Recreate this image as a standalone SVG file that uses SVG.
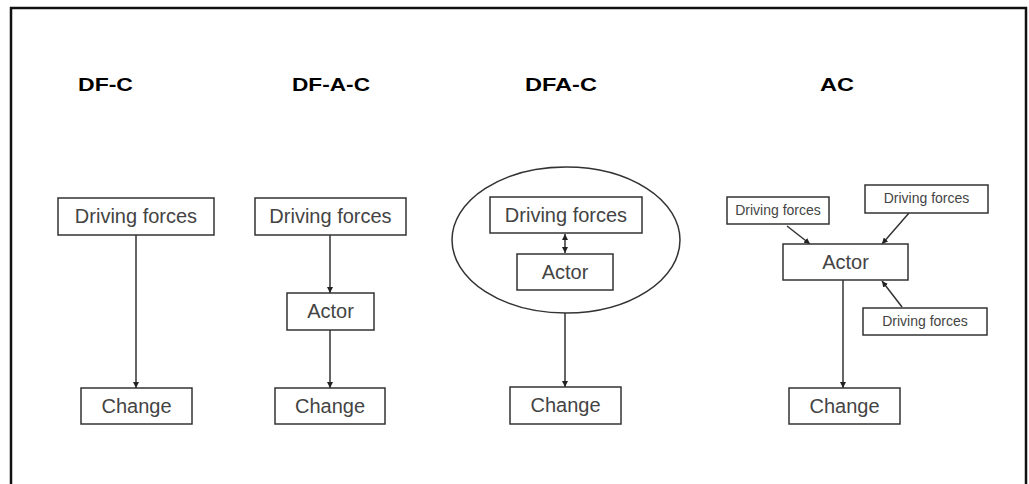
<svg xmlns="http://www.w3.org/2000/svg" width="1029" height="484" viewBox="0 0 1029 484">
<style>
.box{fill:#fff;stroke:#333;stroke-width:1.5}
.grp{fill:none;stroke:#333;stroke-width:1.5}
.lbl{font-family:"Liberation Sans",Arial,sans-serif;fill:#444;text-anchor:middle}
.ttl{font-family:"Liberation Sans",Arial,sans-serif;font-weight:bold;fill:#000;font-size:19px}
.con{fill:none;stroke:#333;stroke-width:1.5}
.frame{fill:none;stroke:#111;stroke-width:2.5}
</style>
<defs>
<marker id="ah" viewBox="0 0 10 10" refX="10" refY="5" markerWidth="6" markerHeight="6" orient="auto-start-reverse" markerUnits="userSpaceOnUse">
<path d="M0,0 L10,5 L0,10 z" fill="#222"/>
</marker>
</defs>
<rect width="1029" height="484" fill="#fff"/>
<path class="frame" d="M11,490 V8 H1026 V490"/>

<g id="titles">
<text class="ttl" x="78" y="91" textLength="55" lengthAdjust="spacingAndGlyphs">DF-C</text>
<text class="ttl" x="292" y="91" textLength="78" lengthAdjust="spacingAndGlyphs">DF-A-C</text>
<text class="ttl" x="525" y="91" textLength="72" lengthAdjust="spacingAndGlyphs">DFA-C</text>
<text class="ttl" x="820" y="91" textLength="34" lengthAdjust="spacingAndGlyphs">AC</text>
</g>

<g id="dfa-c-group">
<ellipse class="grp" cx="566" cy="240" rx="114" ry="73"/>
</g>

<g id="connectors">
<line class="con" x1="136" y1="235" x2="136" y2="388" marker-end="url(#ah)"/>
<line class="con" x1="330" y1="235" x2="330" y2="293" marker-end="url(#ah)"/>
<line class="con" x1="330" y1="330" x2="330" y2="388" marker-end="url(#ah)"/>
<line class="con" x1="565" y1="234" x2="565" y2="253" marker-start="url(#ah)" marker-end="url(#ah)"/>
<line class="con" x1="565" y1="313" x2="565" y2="387" marker-end="url(#ah)"/>
<line class="con" x1="787" y1="226" x2="810" y2="244" marker-end="url(#ah)"/>
<line class="con" x1="909" y1="213" x2="882" y2="244" marker-end="url(#ah)"/>
<line class="con" x1="902" y1="307" x2="882" y2="281" marker-end="url(#ah)"/>
<line class="con" x1="843" y1="280" x2="843" y2="388" marker-end="url(#ah)"/>
</g>

<g id="dfc-driving">
<rect class="box" x="58" y="198" width="156" height="37"/>
<text class="lbl" x="136" y="223" font-size="20">Driving forces</text>
</g>
<g id="dfc-change">
<rect class="box" x="81" y="388" width="111" height="36"/>
<text class="lbl" x="136.5" y="413" font-size="20">Change</text>
</g>

<g id="dfac-driving">
<rect class="box" x="255" y="198" width="151" height="37"/>
<text class="lbl" x="330.5" y="223" font-size="20">Driving forces</text>
</g>
<g id="dfac-actor">
<rect class="box" x="287" y="293" width="87" height="37"/>
<text class="lbl" x="330.5" y="318" font-size="20">Actor</text>
</g>
<g id="dfac-change">
<rect class="box" x="275" y="388" width="110" height="36"/>
<text class="lbl" x="330" y="413" font-size="20">Change</text>
</g>

<g id="dfa-c-driving">
<rect class="box" x="490" y="197" width="152" height="36"/>
<text class="lbl" x="566" y="222" font-size="20">Driving forces</text>
</g>
<g id="dfa-c-actor">
<rect class="box" x="517" y="254" width="96" height="36"/>
<text class="lbl" x="565" y="279" font-size="20">Actor</text>
</g>
<g id="dfa-c-change">
<rect class="box" x="510" y="387" width="111" height="37"/>
<text class="lbl" x="565.5" y="412" font-size="20">Change</text>
</g>

<g id="ac-driving-1">
<rect class="box" x="727" y="197" width="102" height="27"/>
<text class="lbl" x="778" y="215" font-size="14">Driving forces</text>
</g>
<g id="ac-driving-2">
<rect class="box" x="865" y="185" width="123" height="28"/>
<text class="lbl" x="926.5" y="203" font-size="14">Driving forces</text>
</g>
<g id="ac-actor">
<rect class="box" x="783" y="244" width="125" height="36"/>
<text class="lbl" x="845.5" y="269" font-size="20">Actor</text>
</g>
<g id="ac-driving-3">
<rect class="box" x="863" y="308" width="124" height="27"/>
<text class="lbl" x="925" y="326" font-size="14">Driving forces</text>
</g>
<g id="ac-change">
<rect class="box" x="789" y="388" width="111" height="36"/>
<text class="lbl" x="844.5" y="413" font-size="20">Change</text>
</g>
</svg>
